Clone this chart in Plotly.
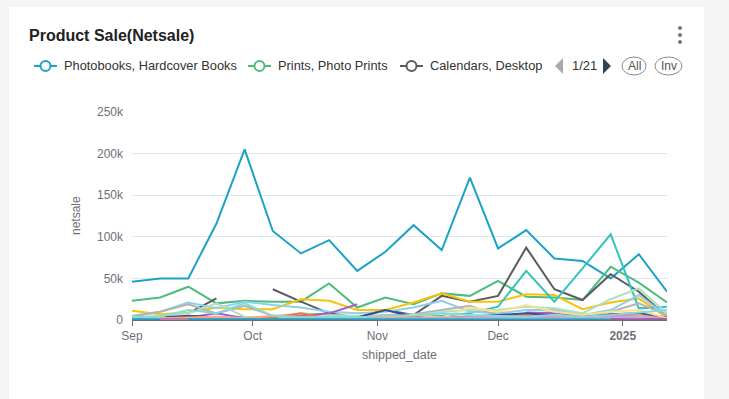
import plotly.graph_objects as go
import pandas as pd

dates = pd.date_range("2024-09-01", "2025-01-12", freq="7D")

series_names = [
    "Photobooks, Hardcover Books",
    "Prints, Photo Prints",
    "Calendars, Desktop Calendars",
    "Cards, Greeting Cards",
    "Wall Decor, Canvas Prints",
    "Photobooks, Softcover Books",
    "Prints, Large Format Prints",
    "Gifts, Photo Mugs",
    "Calendars, Wall Calendars",
    "Gifts, Photo Puzzles",
    "Cards, Holiday Cards",
    "Wall Decor, Metal Prints",
    "Gifts, Blankets",
    "Prints, Square Prints",
    "Wall Decor, Acrylic Prints",
    "Photobooks, Layflat Books",
    "Gifts, Ornaments",
    "Stationery, Notebooks",
    "Gifts, Pillows",
]

series_colors = [
    "#1ba3c6", "#4dbd7f", "#5b5b5b", "#fac20a", "#33c4bd", "#8fd0e8",
    "#b3b3b3", "#ade0c4", "#a65fc4", "#3f4b8c", "#fbe08d", "#f5763a",
    "#f7a78e", "#e77fa4", "#bcaee0", "#86dada", "#1f9fc0", "#a35aa6",
    "#d07898",
]

# values in thousands (None = no data that week)
v_photobooks = [46, 50, 50, 116, 205, 107, 80, 96, 59, 82, 114, 84, 171, 86, 108, 74, 71, 50, 79, 34]
v_prints = [23, 27, 40, 20, 23, 22, 22, 44, 15, 27, 19, 32, 29, 47, 28, 27, 24, 64, 45, 21]
v_calendars = [None, None, 8, 26, None, 37, 22, 8, 3, 12, 6, 29, 22, 29, 87, 37, 24, 55, 34, 4]
v_cards = [11, 7, 9, 15, 13, 13, 25, 23, 12, 12, 21, 32, 22, 22, 31, 30, 13, 21, 26, 3]
v_canvas = [3, 3, 4, 3, 3, 2, 2, 3, 2, 3, 4, 5, 8, 16, 59, 22, 62, 103, 14, 16]
v_softcover = [5, 10, 21, 14, 22, 18, 15, 10, 8, 10, 15, 23, 10, 8, 12, 12, 6, 12, 30, 5]
v_large = [4, 10, 19, 8, 17, 5, 6, 3, 4, 6, 7, 12, 17, 5, 7, 10, 4, 10, 20, 6]
v_mugs = [3, 5, 8, 20, 4, 3, 8, 6, 5, 4, 5, 10, 12, 12, 16, 14, 8, 25, 38, 8]
v_wallcal = [2, 3, 3, 8, 2, 3, 5, 8, 19, None, None, None, None, None, 9, 8, 6, 4, 6, 2]
v_puzzles = [2, 3, 5, 3, 1, 2, 3, 2, 3, 12, 4, 2, 4, 6, 8, 5, 3, 7, 8, 3]
v_holiday = [1, 2, 2, 3, 2, 4, 3, 2, 3, 4, 6, 3, 15, 10, 18, 10, 6, 10, 12, 2]
v_metal = [1, 1, 1, 2, 1, 3, 8, 2, 2, 2, 3, 2, 4, 3, 5, 2, 3, 3, 4, 1]
v_blankets = [2, 2, 3, 4, 2, 5, 4, 3, 2, 3, 2, 3, 3, 4, 3, 5, 2, 4, 6, 1]
v_square = [1, 1, 1, 1, 1, 1, 2, 2, 2, 1, 2, 2, 3, 3, 4, 3, 2, 5, 4, 1]
v_acrylic = [0.5, 0.5, 1, 1, 1, 1, 1, 1, 1, 1, 2, 2, 3, 3, 2, 2, 3, 3, 4, 1]
v_layflat = [3, 4, 12, 8, 20, 5, 3, 4, 3, 5, 5, 8, 6, 5, 4, 6, 4, 6, 9, 12]
v_ornaments = [1, 0.5, 1, 1, 1, 0.5, 0.5, 0.5, 1, 0.5, 0.5, 0.5, 0.5, 0.5, 1, 1, 1, 1, 1, 0.5]
v_notebooks = [None, None, None, None, None, None, None, None, None, None, None, None, None, None, None, None, None, 1, 1, 1]
v_pillows = [None, 0.8, 0.8, None, None, None, None, None, None, None, None, None, None, None, None, None, None, None, None, None]

all_values = [
    v_photobooks, v_prints, v_calendars, v_cards, v_canvas, v_softcover,
    v_large, v_mugs, v_wallcal, v_puzzles, v_holiday, v_metal, v_blankets,
    v_square, v_acrylic, v_layflat, v_ornaments, v_notebooks, v_pillows,
]

y_tick_vals = [0, 50000, 100000, 150000, 200000, 250000]
y_tick_text = ["0", "50k", "100k", "150k", "200k", "250k"]
x_tick_vals = ["2024-09-01", "2024-10-01", "2024-11-01", "2024-12-01", "2025-01-01"]
x_tick_text = ["Sep", "Oct", "Nov", "Dec", "<b>2025</b>"]

legend_items = ["Photobooks, Hardcover Books", "Prints, Photo Prints", "Calendars, Desktop "]
page_text = "1/21"

FONT = "Liberation Sans, Arial"

fig = go.Figure()

for i in range(len(all_values)):
    vals = [None if v is None else v * 1000 for v in all_values[i]]
    fig.add_trace(go.Scatter(
        x=dates, y=vals, mode="lines", name=series_names[i],
        line=dict(color=series_colors[i], width=2),
        connectgaps=False, showlegend=False,
    ))

# plot area in pixels
L, R, T, B = 132, 667, 112, 320
W, H = 729, 399


def fx(px):
    return (px - L) / (R - L)


def fy(py):
    return (B - py) / (B - T)


shapes = []
annotations = []

# card
shapes.append(dict(type="rect", xref="paper", yref="paper", layer="below",
                   x0=fx(9), x1=fx(704), y0=fy(410), y1=fy(7),
                   fillcolor="#ffffff", line=dict(width=0)))

# title
annotations.append(dict(text="<b>Product Sale(Netsale)</b>", xref="paper", yref="paper",
                        x=fx(27), y=fy(35), xanchor="left", yanchor="middle", showarrow=False,
                        font=dict(size=16, color="#222222", family=FONT)))
# menu dots
for dy in (28, 35, 42):
    shapes.append(dict(type="circle", xref="paper", yref="paper",
                       x0=fx(678), x1=fx(682), y0=fy(dy + 2), y1=fy(dy - 2),
                       fillcolor="#777777", line=dict(width=0)))

# manual legend
leg_y = 66
leg_x = [34, 248, 400]
for k, name in enumerate(legend_items):
    x0 = leg_x[k]
    c = series_colors[k]
    shapes.append(dict(type="line", xref="paper", yref="paper",
                       x0=fx(x0), x1=fx(x0 + 23), y0=fy(leg_y), y1=fy(leg_y),
                       line=dict(color=c, width=2)))
    shapes.append(dict(type="circle", xref="paper", yref="paper",
                       x0=fx(x0 + 6.5), x1=fx(x0 + 16.5), y0=fy(leg_y + 5), y1=fy(leg_y - 5),
                       fillcolor="#ffffff", line=dict(color=c, width=2)))
    annotations.append(dict(text=name, xref="paper", yref="paper",
                            x=fx(x0 + 28), y=fy(leg_y), xanchor="left", yanchor="middle",
                            showarrow=False,
                            font=dict(size=12.8, color="#333333", family=FONT)))

# page controls
shapes.append(dict(type="path", xref="paper", yref="paper",
                   path=f"M {fx(563)} {fy(58)} L {fx(563)} {fy(74)} L {fx(555)} {fy(66)} Z",
                   fillcolor="#aaaaaa", line=dict(width=0)))
annotations.append(dict(text=page_text, xref="paper", yref="paper",
                        x=fx(584), y=fy(leg_y), xanchor="center", yanchor="middle", showarrow=False,
                        font=dict(size=13, color="#333333", family=FONT)))
shapes.append(dict(type="path", xref="paper", yref="paper",
                   path=f"M {fx(603)} {fy(58)} L {fx(603)} {fy(74)} L {fx(611)} {fy(66)} Z",
                   fillcolor="#2f4554", line=dict(width=0)))
for (a, b, t) in [(622, 646, "All"), (655, 682, "Inv")]:
    shapes.append(dict(type="circle", xref="paper", yref="paper",
                       x0=fx(a), x1=fx(b), y0=fy(75), y1=fy(57),
                       fillcolor="#ffffff", line=dict(color="#888888", width=1)))
    annotations.append(dict(text=t, xref="paper", yref="paper",
                            x=fx((a + b) / 2), y=fy(leg_y), xanchor="center", yanchor="middle",
                            showarrow=False,
                            font=dict(size=12, color="#555555", family=FONT)))

# axis titles
annotations.append(dict(text="netsale", xref="paper", yref="paper",
                        x=fx(76), y=fy(216), xanchor="center", yanchor="middle", textangle=-90,
                        showarrow=False, font=dict(size=12, color="#6e7079", family=FONT)))
annotations.append(dict(text="shipped_date", xref="paper", yref="paper",
                        x=fx(399), y=fy(355), xanchor="center", yanchor="middle",
                        showarrow=False, font=dict(size=12.5, color="#6e7079", family=FONT)))

fig.update_layout(
    width=W, height=H,
    margin=dict(l=L, r=W - R, t=T, b=H - B, pad=0),
    paper_bgcolor="#f5f5f5",
    plot_bgcolor="rgba(0,0,0,0)",
    showlegend=False,
    hovermode=False,
    shapes=shapes,
    annotations=annotations,
    font=dict(family=FONT, size=12, color="#6e7079"),
    xaxis=dict(
        type="date",
        range=["2024-09-01", "2025-01-12"],
        tickvals=x_tick_vals, ticktext=x_tick_text,
        showgrid=False, zeroline=False,
        showline=True, linecolor="#6e7079", linewidth=1,
        ticks="outside", ticklen=5, tickcolor="#6e7079",
        tickfont=dict(size=12, color="#6e7079"),
    ),
    yaxis=dict(
        range=[0, 250000],
        tickvals=y_tick_vals, ticktext=y_tick_text,
        showgrid=True, gridcolor="#e0e6f1", gridwidth=1,
        zeroline=False, showline=False, ticks="",
        ticklabelstandoff=8,
        tickfont=dict(size=12, color="#6e7079"),
    ),
)

fig.write_html(
    "out.html",
    config={"displayModeBar": False},
    post_script="document.body.style.margin='0';document.body.style.padding='0';",
)
